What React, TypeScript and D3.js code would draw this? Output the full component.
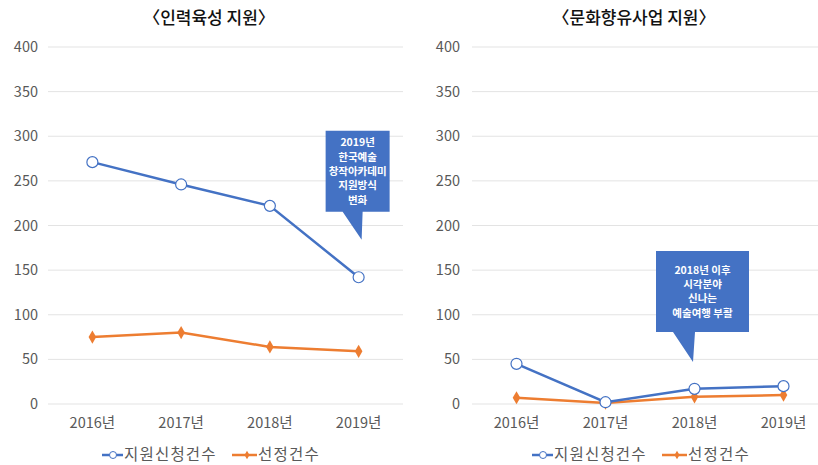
import React from "react";
import * as d3 from "d3";

const years = ["2016년", "2017년", "2018년", "2019년"];
const yTicks = [0, 50, 100, 150, 200, 250, 300, 350, 400];

const leftTitle = "〈인력육성 지원〉";
const leftApplied = [271, 246, 222, 142];
const leftSelected = [75, 80, 64, 59];

const rightTitle = "〈문화향유사업 지원〉";
const rightApplied = [45, 2, 17, 20];
const rightSelected = [7, 1, 8, 10];

const seriesNames = ["지원신청건수", "선정건수"];

const leftNote = ["2019년", "한국예술", "창작아카데미", "지원방식", "변화"];
const rightNote = ["2018년 이후", "시각분야", "신나는", "예술여행 부활"];

const BLUE = "#4472C4";
const ORANGE = "#ED7D31";
const FONT = "'Noto Sans CJK KR', 'Noto Sans', sans-serif";

const y = d3.scaleLinear().domain([0, 400]).range([404, 47]);

type PanelProps = {
  title: string;
  titleX: number;
  applied: number[];
  selected: number[];
  range: [number, number];
  gridEnd: number;
  labelX: number;
  legendX: number;
  note: string[];
  noteCat: string;
  noteVal: number;
  noteDx: number;
  box: { l: number; r: number; t: number; b: number; b0: number; b1: number; ty: number };
};

function Panel(p: PanelProps) {
  const x = d3.scalePoint<string>().domain(years).range(p.range).padding(0.5);
  const line = d3
    .line<number>()
    .x((_, i) => x(years[i]) as number)
    .y((d) => y(d));
  const tx = (x(p.noteCat) as number) + p.noteDx;
  const ty = y(p.noteVal);
  const B = p.box;
  const callout = `M${tx + B.l},${ty + B.t} L${tx + B.r},${ty + B.t} L${tx + B.r},${ty + B.b} L${tx + B.b1},${ty + B.b} L${tx},${ty} L${tx + B.b0},${ty + B.b} L${tx + B.l},${ty + B.b} Z`;
  const boxCx = tx + (B.l + B.r) / 2;
  const diamond = d3.symbol().type(d3.symbolDiamond).size(50)();
  return (
    <g>
      <text x={p.titleX} y={24} textAnchor="middle" fontSize={17} fontWeight={500} fill="#111" fontFamily={FONT}>
        {p.title}
      </text>
      {yTicks.map((t) => (
        <g key={t}>
          <line x1={p.range[0]} x2={p.gridEnd} y1={y(t)} y2={y(t)} stroke="#E3E3E3" strokeWidth={1} />
          <text x={p.labelX} y={y(t)} dy="0.35em" textAnchor="end" fontSize={14.5} fill="#595959" fontFamily={FONT}>
            {t}
          </text>
        </g>
      ))}
      {years.map((yr) => (
        <text key={yr} x={x(yr)} y={428} textAnchor="middle" fontSize={14.5} fill="#595959" fontFamily={FONT}>
          {yr}
        </text>
      ))}
      <path d={line(p.selected) || ""} fill="none" stroke={ORANGE} strokeWidth={2.5} />
      {p.selected.map((v, i) => (
        <path key={i} d={diamond || ""} transform={`translate(${x(years[i])},${y(v)})`} fill={ORANGE} />
      ))}
      <path d={line(p.applied) || ""} fill="none" stroke={BLUE} strokeWidth={2.5} />
      {p.applied.map((v, i) => (
        <circle key={i} cx={x(years[i])} cy={y(v)} r={5.5} fill="#fff" stroke={BLUE} strokeWidth={1.2} />
      ))}
      <path d={callout} fill={BLUE} />
      {p.note.map((s, i) => (
        <text
          key={i}
          x={boxCx}
          y={ty + B.t + B.ty + i * 14.3}
          dy="0.35em"
          textAnchor="middle"
          fontSize={10.5}
          fontWeight={700}
          fill="#fff"
          fontFamily={FONT}
        >
          {s}
        </text>
      ))}
      <g transform={`translate(${p.legendX},455)`}>
        <line x1={0} x2={21} y1={0} y2={0} stroke={BLUE} strokeWidth={2.5} />
        <circle cx={11} cy={0} r={3.5} fill="#fff" stroke={BLUE} strokeWidth={1} />
        <text x={22} y={0} dy="0.33em" fontSize={15.5} letterSpacing={1.2} fill="#595959" fontFamily={FONT}>
          {seriesNames[0]}
        </text>
        <line x1={130} x2={155} y1={0} y2={0} stroke={ORANGE} strokeWidth={2.5} />
        <path d={d3.symbol().type(d3.symbolDiamond).size(22)() || ""} transform="translate(145,0)" fill={ORANGE} />
        <text x={156} y={0} dy="0.33em" fontSize={15.5} letterSpacing={1.2} fill="#595959" fontFamily={FONT}>
          {seriesNames[1]}
        </text>
      </g>
    </g>
  );
}

export default function App() {
  return (
    <svg width={818} height={465} style={{ position: "absolute", left: 0, top: 0, background: "#fff" }}>
      <rect width={818} height={465} fill="#fff" />
      <Panel
        title={leftTitle}
        titleX={209}
        applied={leftApplied}
        selected={leftSelected}
        range={[48, 403]}
        gridEnd={403}
        labelX={38}
        legendX={102}
        note={leftNote}
        noteCat="2019년"
        noteVal={184}
        noteDx={3}
        box={{ l: -36, r: 28, t: -109, b: -28, b0: -19, b1: 1, ty: 12 }}
      />
      <Panel
        title={rightTitle}
        titleX={634}
        applied={rightApplied}
        selected={rightSelected}
        range={[472, 828]}
        gridEnd={818}
        labelX={460}
        legendX={532}
        note={rightNote}
        noteCat="2018년"
        noteVal={47}
        noteDx={-1.5}
        box={{ l: -37, r: 56, t: -111, b: -30, b0: -20, b1: 2, ty: 19 }}
      />
    </svg>
  );
}
